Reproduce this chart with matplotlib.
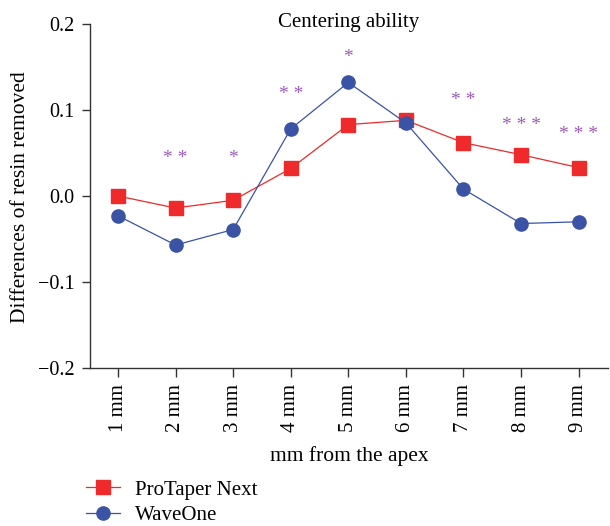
import matplotlib
matplotlib.use("Agg")
import matplotlib.pyplot as plt
import matplotlib.transforms as mtransforms

positions = [1, 2, 3, 4, 5, 6, 7, 8, 9]
tick_labels = ["1 mm", "2 mm", "3 mm", "4 mm", "5 mm", "6 mm", "7 mm", "8 mm", "9 mm"]
protaper = [0.000, -0.014, -0.005, 0.032, 0.083, 0.088, 0.062, 0.048, 0.033]
waveone = [-0.023, -0.057, -0.039, 0.078, 0.132, 0.085, 0.008, -0.032, -0.030]
sig_pos = [2, 3, 4, 5, 7, 8, 9]
sig_text = ["**", "*", "**", "*", "**", "***", "***"]
sig_y = [0.050, 0.050, 0.125, 0.168, 0.118, 0.089, 0.078]

plt.rcParams['font.family'] = ['Liberation Serif', 'DejaVu Serif']

W, H = 610, 526
fig = plt.figure(figsize=(W / 100, H / 100), dpi=100)
ax = fig.add_axes([89.5 / W, 1 - 368 / H, (608 - 89.5) / W, (368 - 24) / H])

red = "#EE2A2A"
blue = "#3A53A4"
ax.plot(positions, protaper, color=red, marker='s', markersize=10, lw=0.9, label="ProTaper Next")
ax.plot(positions, waveone, color=blue, marker='o', markersize=9.5, lw=0.9, label="WaveOne")

down = mtransforms.ScaledTranslation(0, -4 / 72, fig.dpi_scale_trans)
for x, t, y in zip(sig_pos, sig_text, sig_y):
    ax.text(x, y, " ".join(t), color="#9B59B6", ha='center', va='center', fontsize=14,
            transform=ax.transData + down)

ax.set_xlim(0.505, 9.51)
ax.set_ylim(-0.2, 0.2)
ax.set_yticks([-0.2, -0.1, 0.0, 0.1, 0.2])
ax.set_yticklabels(["\u22120.2", "\u22120.1", "0.0", "0.1", "0.2"])
ax.set_xticks(positions)
ax.set_xticklabels(tick_labels, rotation=90)
ax.tick_params(axis='y', direction='out', length=6, width=1, labelsize=14.5, pad=5, color="#333333")
ax.tick_params(axis='x', direction='out', length=6.5, width=1, labelsize=15, pad=5, color="#333333")
ax.spines['top'].set_visible(False)
ax.spines['right'].set_visible(False)
for s in ['left', 'bottom']:
    ax.spines[s].set_linewidth(1.0)
    ax.spines[s].set_color("#333333")

fig.text(349 / W, 1 - 22 / H, "Centering ability", ha='center', va='center', fontsize=15)
fig.text(21 / W, 1 - 197 / H, "Differences of resin removed", rotation=90, ha='center', va='center', fontsize=15.5)
fig.text(349 / W, 1 - 456 / H, "mm from the apex", ha='center', va='center', fontsize=15.5)

leg = fig.legend(loc='upper left', bbox_to_anchor=(86 / W, 1 - 480 / H), frameon=False, fontsize=15,
                 handlelength=1.65, handletextpad=0.7, labelspacing=0.3, borderaxespad=0, borderpad=0)

fig.savefig("out.png", dpi=100)
